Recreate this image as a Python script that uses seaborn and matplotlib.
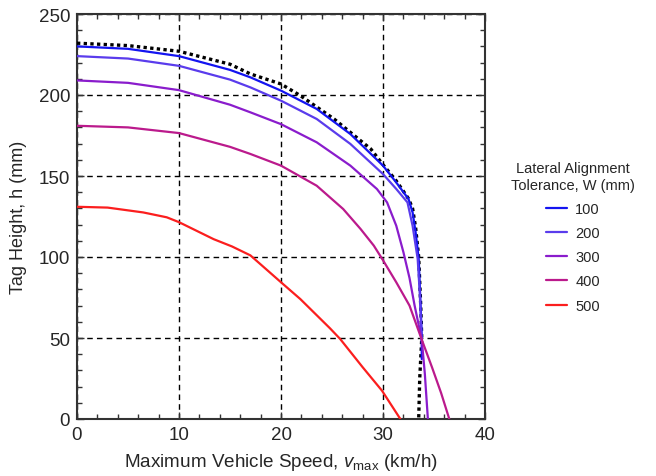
import matplotlib
matplotlib.use("Agg")
import matplotlib.pyplot as plt
import seaborn as sns
import pandas as pd
from matplotlib.ticker import MultipleLocator

# ---- data ----
env_v = [0, 5, 10, 15, 17, 20, 21.9, 25.2, 27.8, 28.8, 30, 31.3, 32.5, 32.9, 33.2, 33.5, 33.7, 33.8, 33.6, 33.5]
env_h = [232, 230.5, 227, 219, 213, 206.8, 199.6, 185.2, 171.8, 166.7, 157, 147, 136, 130, 118, 100, 70, 50, 25, 0]

w100_v = [0, 5, 10, 15, 17, 20, 23.5, 26.8, 30, 31.3, 32.5, 32.9, 33.2, 33.5, 33.7, 33.8, 33.8]
w100_h = [230, 228.5, 224, 215.5, 210.9, 202.7, 191.4, 175.9, 156.4, 146, 135.8, 127.6, 115.2, 98.8, 68, 50, 37]

w200_v = [0, 5, 10, 15, 17, 20, 23.5, 26.8, 30, 31.3, 32.4, 32.9, 33.4, 33.6, 33.8]
w200_h = [224, 222.5, 218, 209.5, 204.7, 196.5, 185.2, 169.8, 151.2, 142, 133.7, 119.3, 98.8, 78, 48]

w300_v = [0, 5, 10, 15, 17, 20, 23.5, 26.8, 29.4, 30.4, 31.3, 32.0, 32.6, 33.1, 33.5, 33.8, 34.1, 34.4]
w300_h = [209, 207.5, 203, 194, 189.3, 182, 170.8, 156.4, 142, 133.7, 119.3, 103, 87, 70, 58, 49, 28, 0]

w400_v = [0, 5, 10, 15, 17, 20, 23.5, 26.1, 27.8, 29.1, 30, 31.3, 32.6, 33.8, 34.8, 35.7, 36.5]
w400_h = [181, 180, 176.5, 168, 163.6, 156.4, 144, 129.6, 117.3, 107, 98, 84.4, 70, 49, 32, 16, 0]

w500_v = [0, 3, 6.5, 8.8, 10, 13.4, 15.2, 17, 20, 21.9, 24.8, 25.8, 28, 29.9, 31.7]
w500_h = [131, 130.5, 127.5, 124.5, 121.5, 111, 106.5, 101, 84.4, 74, 56, 49.4, 32, 17.5, 0]

labels = ["100", "200", "300", "400", "500"]
colors = ["#1414f0", "#5a3cec", "#8a1ccc", "#bb1a8c", "#fb1e1e"]

curves = [(w100_v, w100_h), (w200_v, w200_h), (w300_v, w300_h),
          (w400_v, w400_h), (w500_v, w500_h)]

sns.set_style("white")
plt.rcParams["font.family"] = ["Liberation Sans", "DejaVu Sans"]
plt.rcParams["mathtext.fontset"] = "custom"
plt.rcParams["mathtext.rm"] = "Liberation Sans"
plt.rcParams["mathtext.it"] = "Liberation Sans:italic"

fig = plt.figure(figsize=(6.56, 4.77), dpi=100)
ax = fig.add_axes([77 / 656, 1 - 420 / 477, 408 / 656, 405 / 477])

ax.set_axisbelow(True)
ax.grid(True, which="major", color="black", linestyle=(0, (4, 3)), linewidth=1.0)

env_df = pd.DataFrame({"v": env_v, "h": env_h})
sns.lineplot(data=env_df, x="v", y="h", sort=False, estimator=None, ax=ax,
             color="black", linestyle=(0, (1, 1)), linewidth=2.4, zorder=3)

for (v, h), lab, col in zip(curves, labels, colors):
    df = pd.DataFrame({"v": v, "h": h})
    sns.lineplot(data=df, x="v", y="h", sort=False, estimator=None, ax=ax,
                 color=col, linewidth=1.6, label=lab, zorder=4)

ax.set_xlim(0, 40)
ax.set_ylim(0, 250)
ax.xaxis.set_major_locator(MultipleLocator(10))
ax.xaxis.set_minor_locator(MultipleLocator(2))
ax.yaxis.set_major_locator(MultipleLocator(50))
ax.yaxis.set_minor_locator(MultipleLocator(10))
ax.tick_params(which="both", direction="in", top=True, right=True,
               bottom=True, left=True, color="#333333")
ax.tick_params(which="major", length=5, width=1.0, labelsize=13.5, pad=5)
ax.tick_params(which="minor", length=3.5, width=1.0)
for s in ax.spines.values():
    s.set_color("#333333")
    s.set_linewidth(1.5)

ax.set_xlabel(r"Maximum Vehicle Speed, $v_{\mathrm{max}}$ (km/h)", fontsize=13.6, labelpad=6)
ax.set_ylabel("Tag Height, h (mm)", fontsize=13, labelpad=8)

leg = ax.legend(title="Lateral Alignment\nTolerance, W (mm)", loc="center",
                bbox_to_anchor=(573 / 656, 1 - 238 / 477),
                bbox_transform=fig.transFigure, frameon=False,
                fontsize=10.5, title_fontsize=10.5, handlelength=1.4,
                handletextpad=0.6, labelspacing=0.7)
leg.get_title().set_multialignment("center")

fig.savefig("out.png", dpi=100)
